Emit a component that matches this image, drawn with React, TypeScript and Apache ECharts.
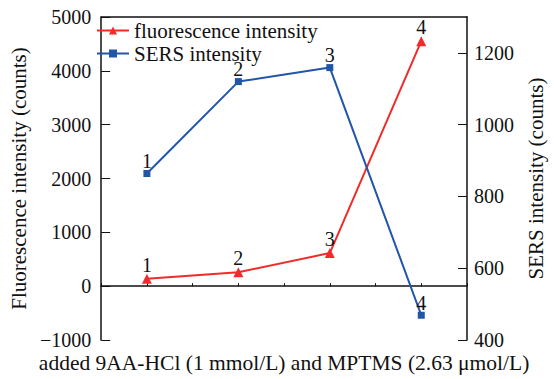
import React, { useEffect, useRef } from "react";
import * as echarts from "echarts";

const samples = [1, 2, 3, 4];
const fluorescence = [140, 260, 615, 4550];
const sers = [864, 1120, 1159, 469];
const leftTicks = { min: -1000, max: 5000, interval: 1000 };
const rightTicks = { min: 400, max: 1300, interval: 200 };

const FONT = "Liberation Serif";

export default function App() {
  const ref = useRef<HTMLDivElement>(null);
  useEffect(() => {
    document.body.style.margin = "0";
    const chart = echarts.init(ref.current!, undefined, { renderer: "svg", width: 554, height: 379 });
    const red = "#f22a2a";
    const blue = "#2055a8";
    const txt = { fontFamily: FONT, color: "#111", fontSize: 20 };
    const fmt = (v: number) => String(v).replace("-", "\u2212");
    chart.setOption({
      animation: false,
      textStyle: { fontFamily: FONT },
      grid: { left: 94, right: 74, top: 17, bottom: 33 },
      legend: {
        orient: "vertical",
        left: 96,
        top: 20,
        padding: 0,
        itemWidth: 32,
        itemHeight: 10,
        itemGap: 2,
        textStyle: { ...txt, fontSize: 21, lineHeight: 17 },
        data: ["fluorescence intensity", "SERS intensity"],
      },
      xAxis: [
        {
          type: "value",
          min: 0.5,
          max: 4.5,
          interval: 0.5,
          name: "added 9AA-HCl (1 mmol/L) and MPTMS (2.63 μmol/L)",
          nameLocation: "middle",
          nameGap: 12,
          nameTextStyle: { ...txt, fontSize: 21.5 },
          axisLine: { lineStyle: { color: "#111", width: 1.5 } },
          axisTick: { inside: true, length: 3, lineStyle: { color: "#111" } },
          axisLabel: { show: false },
          splitLine: { show: false },
        },
        {
          type: "value",
          position: "top",
          min: 0.5,
          max: 4.5,
          axisLine: { show: true, lineStyle: { color: "#111", width: 1.5 } },
          axisTick: { show: false },
          axisLabel: { show: false },
          splitLine: { show: false },
        },
      ],
      yAxis: [
        {
          type: "value",
          ...leftTicks,
          name: "Fluorescence intensity (counts)",
          nameLocation: "middle",
          nameGap: 62,
          nameTextStyle: { ...txt, fontSize: 21 },
          axisLine: { show: true, lineStyle: { color: "#111", width: 1.5 } },
          axisTick: { inside: true, length: 9, lineStyle: { color: "#111" } },
          axisLabel: { ...txt, margin: 10, formatter: fmt },
          splitLine: { show: false },
        },
        {
          type: "value",
          ...rightTicks,
          position: "right",
          name: "SERS intensity (counts)",
          nameLocation: "middle",
          nameGap: 58,
          nameRotate: 90,
          nameTextStyle: { ...txt, fontSize: 21 },
          axisLine: { show: true, lineStyle: { color: "#111", width: 1.5 } },
          axisTick: { inside: true, length: 9, lineStyle: { color: "#111" } },
          axisLabel: { ...txt, margin: 7, showMaxLabel: false, formatter: fmt },
          splitLine: { show: false },
        },
      ],
      series: [
        {
          name: "fluorescence intensity",
          type: "line",
          yAxisIndex: 0,
          data: samples.map((s, i) => [s, fluorescence[i]]),
          symbol: "triangle",
          symbolSize: 10,
          itemStyle: { color: red },
          lineStyle: { color: red, width: 2 },
          label: {
            show: true,
            position: "top",
            distance: 3,
            formatter: (p: any) => String(p.value[0]),
            ...txt,
            lineHeight: 12,
          },
        },
        {
          name: "SERS intensity",
          type: "line",
          yAxisIndex: 1,
          data: samples.map((s, i) => [s, sers[i]]),
          symbol: "rect",
          symbolSize: 7,
          itemStyle: { color: blue },
          lineStyle: { color: blue, width: 2 },
          label: {
            show: true,
            position: "top",
            distance: 3,
            formatter: (p: any) => String(p.value[0]),
            ...txt,
            lineHeight: 12,
          },
        },
      ],
    });
    return () => chart.dispose();
  }, []);
  return <div ref={ref} style={{ width: 554, height: 379 }} />;
}
